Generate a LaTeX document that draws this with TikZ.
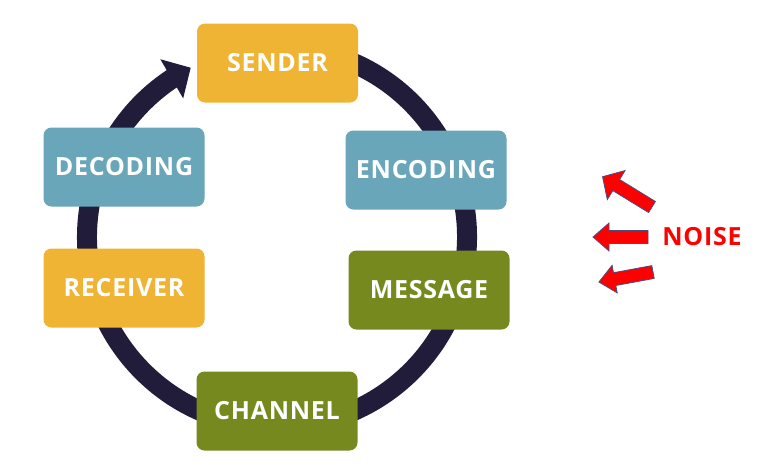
\documentclass[tikz,border=0pt]{standalone}
\usepackage{fontspec}
\setmainfont{Open Sans}
\newfontfamily\stagefont[LetterSpace=3]{Open Sans}
\usepackage{tikz}
\usetikzlibrary{arrows.meta, bending}
\definecolor{ringblue}{RGB}{33, 28, 58}
\definecolor{goldfill}{RGB}{240, 180, 53}
\definecolor{tealfill}{RGB}{105, 166, 185}
\definecolor{olivefill}{RGB}{118, 137, 30}
\definecolor{noisered}{RGB}{255, 0, 0}
\definecolor{noiseedge}{RGB}{70, 80, 130}

\begin{document}
\begin{tikzpicture}[
    x=1pt, y=-1pt,
    stage/.style={rectangle, rounded corners=8pt, minimum width=161pt, minimum height=79pt, inner sep=0pt, text=white, font=\stagefont\bfseries\fontsize{25}{30}\selectfont},
    gold/.style={stage, fill=goldfill},
    teal/.style={stage, fill=tealfill},
    olive/.style={stage, fill=olivefill},
    ring/.style={draw=ringblue, line width=20pt, -{Triangle[width=44pt, length=22pt]}},
    noisearrow/.style={fill=noisered, draw=noiseedge, line width=0.8pt, line join=miter},
    noiselabel/.style={text=noisered, inner sep=0pt, font=\stagefont\bfseries\fontsize{25}{30}\selectfont}
]

\useasboundingbox (0,0) rectangle (768,472);

\coordinate (ctr) at (277,237);
\draw[ring] ([shift={(-80:190)}]ctr) arc[start angle=-80, end angle=243, radius=190];

\node[gold] (send) at (277.5,63) {SENDER};
\node[teal] (enc) at (426,170) {ENCODING};
\node[olive] (msg) at (429,290) {MESSAGE};
\node[olive] (chan) at (277,411) {CHANNEL};
\node[gold] (recv) at (124,288) {RECEIVER};
\node[teal] (dec) at (124,167) {DECODING};

\node[noiselabel] (noise) at (702,237) {NOISE};

\foreach \px/\py/\ang/\len/\hw in {652/207/-31.5/58/17, 648/237/0/55/14, 653/272/10.5/55/14}
  \draw[noisearrow, shift={(\px,\py)}, rotate=\ang]
    (0,-6.5) -- ({-\len+16},-6.5) -- ({-\len+16},-\hw) -- ({-\len},0)
    -- ({-\len+16},\hw) -- ({-\len+16},6.5) -- (0,6.5) -- cycle;

\end{tikzpicture}
\end{document}
